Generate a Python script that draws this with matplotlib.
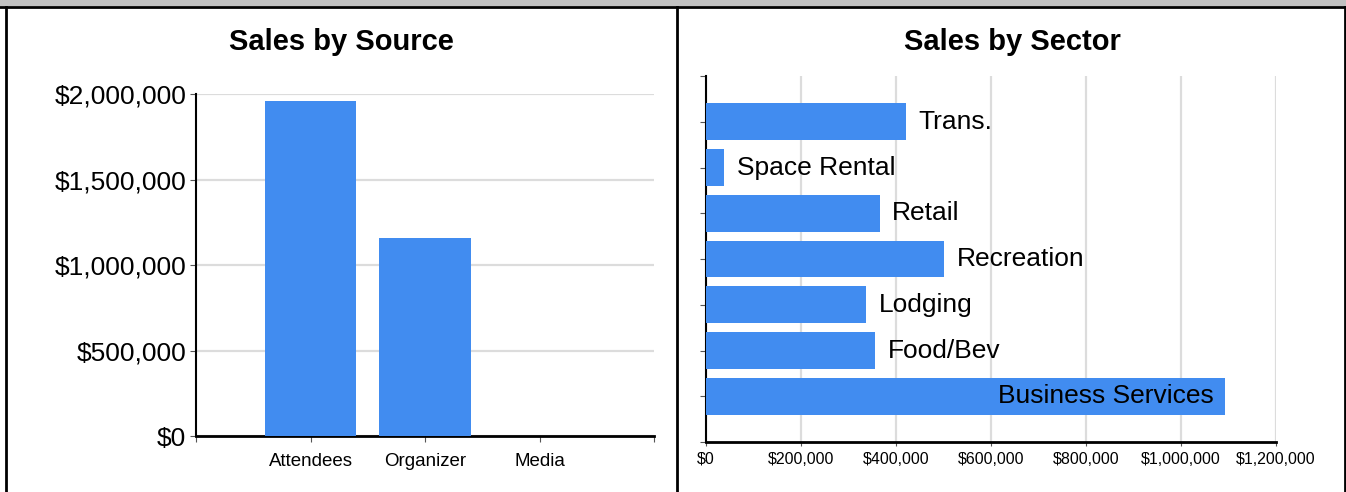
import matplotlib.pyplot as plt
from matplotlib.ticker import FuncFormatter
from matplotlib.lines import Line2D
from matplotlib.patches import Rectangle

plt.rcParams['font.family'] = ['Liberation Sans', 'DejaVu Sans']

# data
source_names = ['Attendees', 'Organizer', 'Media']
source_sales = [1958000, 1155000, 0]

sector_names = ['Business Services', 'Food/Bev', 'Lodging', 'Recreation',
                'Retail', 'Space Rental', 'Trans.']
sector_sales = [1093000, 356000, 337000, 501000, 366000, 38000, 421000]

blue = '#418cf0'
grid_col = '#dcdcdc'
W, H = 1346, 492


def money(v, pos=None):
    return '${:,.0f}'.format(v)


fig = plt.figure(figsize=(W / 100, H / 100), dpi=100)

# panel frame: grey strip on top, black borders
fig.patches.append(Rectangle((0, 1 - 6 / H), 1, 6 / H, transform=fig.transFigure,
                             facecolor='#c0c0c0', edgecolor='none'))
fig.lines.append(Line2D([0, 1], [1 - 7 / H, 1 - 7 / H], transform=fig.transFigure,
                        color='black', lw=2))
for px in [6, 677, 1345]:
    fig.lines.append(Line2D([px / W, px / W], [0, 1 - 7 / H], transform=fig.transFigure,
                            color='black', lw=2))

# ---- left: Sales by Source ----
ax1 = fig.add_axes([196 / W, 1 - 436 / H, 458 / W, 342 / H])
x = range(len(source_names))
ax1.bar(x, source_sales, width=0.8, color=blue, zorder=3)
ax1.set_xlim(-1, 3)
ax1.set_ylim(0, 2000000)
ax1.set_yticks([0, 500000, 1000000, 1500000, 2000000])
ax1.yaxis.set_major_formatter(FuncFormatter(money))
ax1.set_xticks([-1, 0, 1, 2, 3])
ax1.set_xticklabels([''] + source_names + [''])
ax1.grid(axis='y', color=grid_col, lw=1.6, zorder=0)
for s in ['top', 'right']:
    ax1.spines[s].set_visible(False)
ax1.spines['left'].set_linewidth(1.5)
ax1.spines['bottom'].set_linewidth(2)
ax1.tick_params(axis='y', labelsize=19, length=4, color='#555555', pad=3)
ax1.tick_params(axis='x', labelsize=13.5, length=4, color='#555555', pad=8)
fig.text(341 / W, 1 - 42 / H, 'Sales by Source', ha='center', va='center',
         fontsize=21, fontweight='bold')

# ---- right: Sales by Sector ----
ax2 = fig.add_axes([706 / W, 1 - 442 / H, 570 / W, 366 / H])
y = range(len(sector_names))
ax2.barh(y, sector_sales, height=0.8, color=blue, zorder=3)
ax2.set_xlim(0, 1200000)
ax2.set_ylim(-1, 7)
ax2.set_xticks(range(0, 1200001, 200000))
ax2.xaxis.set_major_formatter(FuncFormatter(money))
ax2.set_yticks(range(-1, 8))
ax2.set_yticklabels([])
ax2.grid(axis='x', color=grid_col, lw=1.6, zorder=0)
for s in ['top', 'right']:
    ax2.spines[s].set_visible(False)
ax2.spines['left'].set_linewidth(1.5)
ax2.spines['bottom'].set_linewidth(2)
ax2.tick_params(axis='y', length=4, color='#555555')
ax2.tick_params(axis='x', labelsize=11.5, length=3, color='#555555', pad=4)
for yi, (name, val) in enumerate(zip(sector_names, sector_sales)):
    if val > 0.75 * 1200000:
        ax2.annotate(name, (val, yi), xytext=(-8, 0), textcoords='offset points',
                     ha='right', va='center', fontsize=19, zorder=4)
    else:
        ax2.annotate(name, (val, yi), xytext=(9, 0), textcoords='offset points',
                     ha='left', va='center', fontsize=19, zorder=4)
fig.text(1012 / W, 1 - 42 / H, 'Sales by Sector', ha='center', va='center',
         fontsize=21, fontweight='bold')

fig.savefig('out.png', dpi=100)
